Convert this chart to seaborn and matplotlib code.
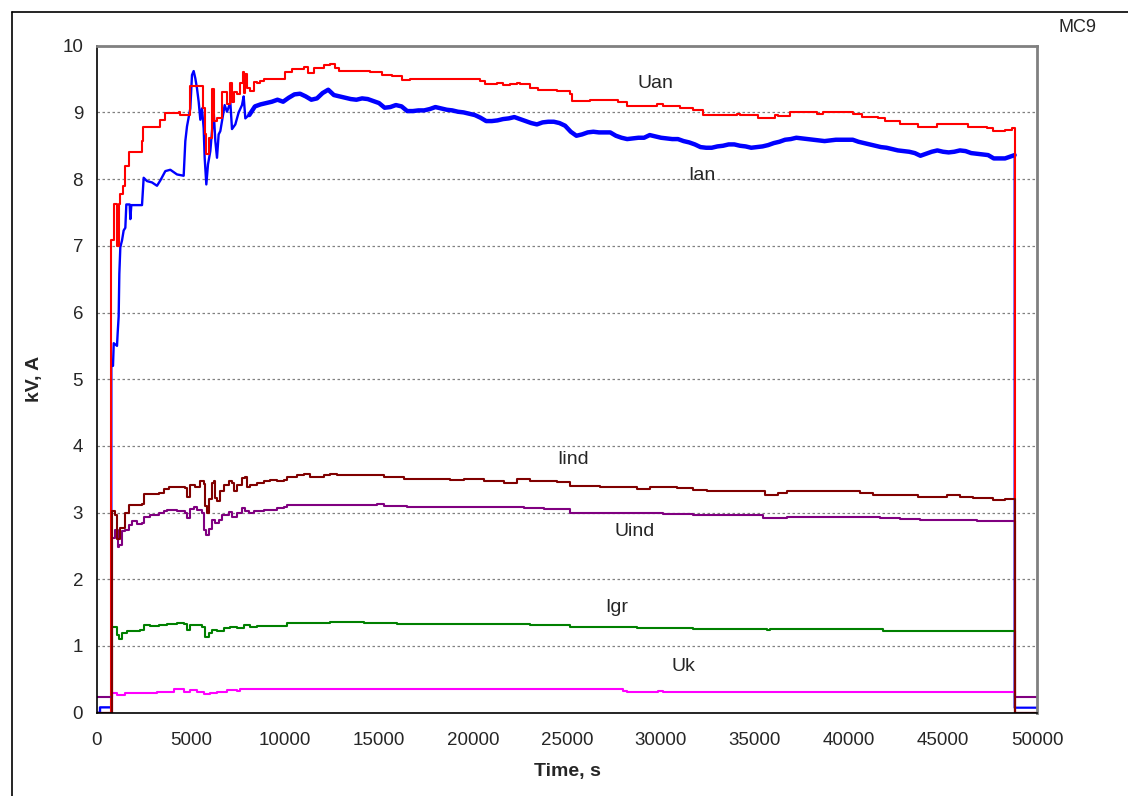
import numpy as np
import pandas as pd
import matplotlib
matplotlib.use("Agg")
import matplotlib.pyplot as plt
import seaborn as sns
from matplotlib.ticker import MultipleLocator

# ---------------- data ----------------
uan_t = [0, 762, 887, 1064, 1188, 1241, 1383, 1472, 1720, 2394, 2429, 3369, 3635, 4344, 4433,
         4964, 5638, 5727, 5798, 5940, 6117, 6206, 6383, 6649, 6915, 7092, 7181, 7269, 7447,
         7624, 7748, 7801, 7890, 7979, 8156, 8333, 8510, 8688, 8865, 10017, 10372, 10993, 11223,
         11525, 12056, 12411, 12677, 12854, 14539, 15159, 15691, 16223, 16649, 20372, 20638,
         21259, 21614, 21968, 22323, 22500, 23032, 23475, 24450, 25159, 25248, 26223, 26578,
         27730, 28173, 29770, 30124, 31010, 31719, 32251, 34025, 34202, 35177, 35798, 36063,
         36241, 36507, 36861, 38280, 38634, 40230, 40673, 41560, 41914, 42712, 43687, 44663,
         45371, 46347, 47322, 47677, 48298, 48650, 48810, 50000]
uan_v = [0, 7.08, 7.62, 7.0, 7.62, 7.77, 7.9, 8.2, 8.4, 8.57, 8.78, 8.89, 8.99, 9.0, 8.96,
         9.4, 9.06, 8.67, 8.37, 8.62, 9.35, 8.87, 8.92, 9.3, 9.12, 9.44, 9.16, 9.3, 9.27,
         9.44, 9.61, 9.29, 9.58, 9.36, 9.32, 9.46, 9.44, 9.47, 9.5, 9.61, 9.65, 9.68, 9.59,
         9.66, 9.71, 9.72, 9.67, 9.62, 9.6, 9.56, 9.54, 9.49, 9.5, 9.47, 9.42,
         9.44, 9.41, 9.42, 9.44, 9.42, 9.36, 9.34, 9.32, 9.27, 9.17, 9.19, 9.18,
         9.15, 9.09, 9.13, 9.09, 9.06, 9.04, 8.96, 8.98, 8.96, 8.91, 8.92, 8.96,
         8.94, 8.95, 9.0, 8.97, 9.0, 8.97, 8.93, 8.91, 8.87, 8.82, 8.78, 8.83,
         8.82, 8.78, 8.76, 8.72, 8.74, 8.76, 0, 0]

# Ian: start-up part (thin) and long noisy part (drawn as a wide band)
ian_t_early = [0, 160, 161, 762, 763, 851, 890, 1064, 1099, 1152, 1188, 1241, 1330, 1418, 1507,
               1560, 1738, 1773, 1826, 2394, 2482, 2660, 2925, 3191, 3369, 3635, 3900, 4255,
               4610, 4698, 4787, 4964, 5053, 5142, 5230, 5319, 5408, 5496, 5585, 5674, 5727,
               5815, 5904, 6028, 6117, 6206, 6294, 6383, 6471, 6560, 6649, 6791, 6915, 7092,
               7181, 7358, 7535, 7713, 7801, 7890, 8000, 8100]
ian_v_early = [0, 0, 0.08, 0.08, 5.2, 5.2, 5.54, 5.5, 5.69, 5.94, 6.58, 6.98, 7.08, 7.23, 7.27,
               7.62, 7.62, 7.4, 7.61, 7.61, 8.02, 7.97, 7.95, 7.9, 7.98, 8.12, 8.14, 8.07,
               8.05, 8.57, 8.79, 9.06, 9.56, 9.62, 9.51, 9.36, 9.16, 8.89, 9.06, 8.76, 8.32,
               7.92, 8.22, 8.42, 8.72, 9.02, 8.57, 8.32, 8.67, 8.72, 8.87, 9.11, 9.01, 9.15,
               8.75, 8.82, 9.0, 9.11, 9.24, 8.91, 8.94, 8.96]
ian_t_late = list(range(8100, 48601, 300)) + [48810]
ian_v_late = [8.96, 9.09, 9.12, 9.14, 9.16, 9.19, 9.16, 9.22, 9.27, 9.28,
              9.24, 9.19, 9.21, 9.29, 9.34, 9.26, 9.24, 9.22, 9.20, 9.19,
              9.21, 9.20, 9.17, 9.14, 9.07, 9.08, 9.11, 9.09, 9.02, 9.02,
              9.03, 9.03, 9.05, 9.08, 9.06, 9.04, 9.03, 9.01, 9.00, 8.98,
              8.96, 8.92, 8.87, 8.87, 8.88, 8.90, 8.91, 8.93, 8.90, 8.87,
              8.84, 8.82, 8.85, 8.86, 8.86, 8.84, 8.80, 8.71, 8.65, 8.67,
              8.70, 8.71, 8.70, 8.70, 8.70, 8.65, 8.62, 8.60, 8.61, 8.62,
              8.62, 8.66, 8.64, 8.62, 8.61, 8.60, 8.60, 8.57, 8.55, 8.52,
              8.48, 8.47, 8.47, 8.49, 8.50, 8.52, 8.52, 8.50, 8.49, 8.47,
              8.48, 8.49, 8.51, 8.54, 8.56, 8.59, 8.60, 8.62, 8.61, 8.60,
              8.59, 8.58, 8.57, 8.58, 8.59, 8.59, 8.59, 8.59, 8.56, 8.54,
              8.52, 8.50, 8.48, 8.47, 8.45, 8.43, 8.42, 8.41, 8.39, 8.35,
              8.38, 8.41, 8.43, 8.41, 8.40, 8.41, 8.43, 8.42, 8.39, 8.38,
              8.37, 8.36, 8.31, 8.31, 8.31, 8.34, 8.36]
ian_t_tail = [48810, 48811, 50000]
ian_v_tail = [8.36, 0.075, 0.075]

iind_t = [0, 800, 975, 1064, 1241, 1507, 1684, 2394, 2482, 3280, 3546, 3812, 4698, 4787, 4964,
          5230, 5496, 5674, 5762, 5850, 5940, 6117, 6206, 6294, 6383, 6560, 6737, 7003, 7181,
          7269, 7447, 7713, 7890, 7979, 8156, 8510, 8865, 9220, 9574, 9929, 10106, 10638,
          10993, 11347, 12056, 12411, 12765, 15071, 15248, 16312, 18794, 19503, 20568, 21631,
          22340, 23049, 24468, 25160, 26755, 28706, 29415, 30833, 31719, 32428, 35532, 36241,
          36684, 40587, 41296, 43687, 45194, 45903, 46613, 47677, 48300, 48810, 50000]
iind_v = [0, 3.02, 2.97, 2.6, 2.77, 2.99, 3.12, 3.13, 3.28, 3.29, 3.36, 3.38, 3.37, 3.23, 3.42,
          3.39, 3.47, 3.43, 3.1, 3.0, 3.2, 3.44, 3.47, 3.22, 3.17, 3.32, 3.42, 3.47, 3.44,
          3.33, 3.42, 3.52, 3.53, 3.39, 3.42, 3.44, 3.47, 3.49, 3.48, 3.49, 3.54, 3.57,
          3.58, 3.54, 3.57, 3.58, 3.56, 3.56, 3.53, 3.5, 3.49, 3.5, 3.47, 3.44,
          3.5, 3.48, 3.46, 3.4, 3.39, 3.36, 3.38, 3.37, 3.34, 3.32, 3.27, 3.29,
          3.32, 3.3, 3.27, 3.23, 3.26, 3.24, 3.22, 3.19, 3.21, 0, 0]

uind_t = [0, 800, 975, 1099, 1152, 1330, 1507, 1684, 1862, 2128, 2394, 2482, 2837, 3280, 3546,
          3723, 4255, 4698, 4787, 4964, 5142, 5319, 5585, 5709, 5815, 5940, 6117, 6294, 6471,
          6649, 7003, 7181, 7447, 7713, 7890, 8067, 8333, 8865, 9574, 9929, 10106, 14893,
          15248, 16489, 17730, 19503, 22695, 23759, 25160, 28173, 30124, 31719, 32073, 35443,
          36684, 41651, 42712, 43776, 46790, 48810, 50000]
uind_v = [0.24, 2.62, 2.74, 2.49, 2.52, 2.72, 2.74, 2.82, 2.87, 2.83, 2.84, 2.94, 2.96, 2.99, 3.02,
          3.04, 3.02, 2.99, 2.92, 3.06, 3.09, 3.04, 3.0, 2.74, 2.66, 2.76, 2.89, 2.84, 2.89,
          2.96, 3.01, 2.94, 2.99, 3.07, 3.02, 2.99, 3.02, 3.04, 3.07, 3.08, 3.12, 3.13,
          3.1, 3.08, 3.09, 3.08, 3.07, 3.05, 3.0, 2.99, 2.98, 2.97, 2.96, 2.92,
          2.94, 2.92, 2.9, 2.89, 2.87, 0.24, 0.24]

igr_t = [0, 800, 1064, 1152, 1330, 1596, 2305, 2482, 2837, 3280, 3723, 4255, 4610, 4787, 4964,
         5585, 5762, 5940, 6117, 6383, 6737, 7092, 7447, 7801, 8156, 8510, 10106, 10638,
         12411, 14184, 15957, 23049, 25160, 26400, 28700, 31719, 35620, 35800, 41827, 48810,
         50000]
igr_v = [0, 1.29, 1.17, 1.1, 1.19, 1.22, 1.24, 1.32, 1.30, 1.32, 1.33, 1.34, 1.33, 1.24, 1.32,
         1.29, 1.14, 1.19, 1.24, 1.22, 1.27, 1.29, 1.27, 1.32, 1.29, 1.30, 1.35, 1.34,
         1.36, 1.35, 1.33, 1.32, 1.28, 1.29, 1.27, 1.26, 1.24, 1.26, 1.23, 0, 0]

uk_t = [0, 780, 1064, 1507, 2394, 3191, 4078, 4610, 4964, 5319, 5674, 6028, 6383, 6915, 7447,
        7624, 27997, 28173, 29859, 30124, 48810, 50000]
uk_v = [0, 0.29, 0.27, 0.29, 0.30, 0.31, 0.35, 0.31, 0.34, 0.31, 0.28, 0.30, 0.31, 0.34, 0.33,
        0.35, 0.33, 0.31, 0.33, 0.31, 0, 0]

labels = ["Uan", "Ian", "Iind", "Uind", "Igr", "Uk"]
label_t = [29680, 32180, 25319, 28616, 27660, 31170]
label_v = [9.44, 8.06, 3.79, 2.71, 1.57, 0.70]

x_ticks = [0, 5000, 10000, 15000, 20000, 25000, 30000, 35000, 40000, 45000, 50000]
y_ticks = [0, 1, 2, 3, 4, 5, 6, 7, 8, 9, 10]

# ---------------- plotting ----------------
sns.set_style("white")
plt.rcParams["font.family"] = ["Liberation Sans", "DejaVu Sans"]

fig = plt.figure(figsize=(11.28, 7.96), dpi=100)
ax = fig.add_axes([97 / 1128, 1 - 712.7 / 796, 940 / 1128, 667 / 796])


def frame(t, v):
    return pd.DataFrame({"t": t, "v": v})


series = [
    (frame(ian_t_early, ian_v_early), "#0000FF", "default", 1.7),
    (frame(ian_t_late, ian_v_late), "#0000FF", "default", 3.2),
    (frame(ian_t_tail, ian_v_tail), "#0000FF", "default", 1.6),
    (frame(uan_t, uan_v), "#FF0000", "steps-post", 1.5),
    (frame(uk_t, uk_v), "#FF00FF", "steps-post", 1.5),
    (frame(igr_t, igr_v), "#008000", "steps-post", 1.5),
    (frame(uind_t, uind_v), "#800080", "steps-post", 1.5),
    (frame(iind_t, iind_v), "#800000", "steps-post", 1.5),
]
for df, col, ds, lw in series:
    sns.lineplot(data=df, x="t", y="v", ax=ax, color=col, lw=lw, sort=False,
                 estimator=None, drawstyle=ds)

for txt, tx, vy in zip(labels, label_t, label_v):
    ax.text(tx, vy, txt, fontsize=14, ha="center", va="center")

ax.set_xlim(0, 50000)
ax.set_ylim(0, 10)
ax.set_xticks(x_ticks)
ax.set_yticks(y_ticks)
ax.xaxis.set_minor_locator(MultipleLocator(1000))
ax.tick_params(axis="x", which="major", direction="inout", length=12, width=1,
               labelsize=13.5, pad=8)
ax.tick_params(axis="x", which="minor", direction="in", length=5, width=1)
ax.tick_params(axis="y", which="major", direction="out", length=6, width=1,
               labelsize=13.5, pad=4)
ax.set_xlabel("Time, s", fontsize=14, fontweight="bold", labelpad=10)
ax.set_ylabel("kV, A", fontsize=14, fontweight="bold", labelpad=14)
ax.yaxis.grid(True, color="#808080", linestyle=(0, (2, 2)), lw=0.9)
ax.xaxis.grid(False)
ax.set_axisbelow(True)
for side in ["left", "bottom"]:
    ax.spines[side].set_color("black")
    ax.spines[side].set_linewidth(1.2)
for side in ["top", "right"]:
    ax.spines[side].set_color("#808080")
    ax.spines[side].set_linewidth(2)

fig.text(1077 / 1128, 1 - 28 / 796, "MC9", fontsize=13, ha="center", va="center")

# outer chart frame
fig.add_artist(plt.Line2D([12 / 1128, 12 / 1128], [0, 1 - 12 / 796], transform=fig.transFigure,
                          color="black", lw=1.2))
fig.add_artist(plt.Line2D([12 / 1128, 1], [1 - 12 / 796, 1 - 12 / 796], transform=fig.transFigure,
                          color="black", lw=1.2))

fig.savefig("out.png", dpi=100)
